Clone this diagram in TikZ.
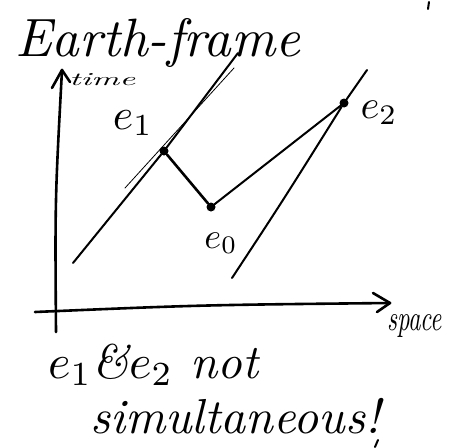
\documentclass[tikz,border=0pt]{standalone}
\begin{document}
\begin{tikzpicture}[x=1pt,y=-1pt, line cap=round, line join=round,
  stroke/.style={line width=2pt},
  axisline/.style={line width=2.6pt},
  dot/.style={circle,fill=black,inner sep=0pt,minimum size=9pt},
  hand/.style={font=\itshape, inner sep=0pt}]
\useasboundingbox (0,0) rectangle (449,447);
% events
\node[dot] (e1) at (164,151) {};
\node[dot] (e0) at (211,207) {};
\node[dot] (e2) at (344,103) {};
% world lines
\coordinate (w1a) at (73,263);
\coordinate (w1b) at (238,53);
\coordinate (t1a) at (125,188);
\coordinate (t1b) at (234,68);
\coordinate (w2a) at (232,278);
\coordinate (w2b) at (367,70);
\draw[stroke] (w1a) -- (e1) -- (w1b);
\draw[line width=0.8pt] (t1a) -- (t1b);
\draw[line width=2.6pt] (e1) -- (e0);
\draw[stroke] (e0) -- (e2);
\draw[stroke] (w2a) .. controls (282,202) .. (e2) -- (w2b);
% axes
\coordinate (tbot) at (56,332);
\coordinate (ttip) at (62,70);
\coordinate (tl) at (52,88);
\coordinate (tr) at (70,82);
\coordinate (sleft) at (35,312);
\coordinate (stip) at (390,303);
\coordinate (su) at (373,293);
\coordinate (sd) at (377,312);
\draw[axisline] (tbot) .. controls (55,200) .. (ttip);
\draw[axisline] (tl) -- (ttip) -- (tr);
\draw[axisline] (sleft) .. controls (200,305) .. (stip);
\draw[axisline] (su) -- (stip) -- (sd);
% labels
\node[hand, anchor=base west] (title) at (15,56) {\resizebox{285pt}{!}{Earth-frame}};
\node[hand, anchor=base west] (time) at (69,85) {\resizebox{66pt}{12pt}{time}};
\node[hand, anchor=north west] (space) at (387,314) {\resizebox{55pt}{16pt}{space}};
\node[inner sep=0pt] (l1) at (133,123) {\resizebox{40pt}{!}{$e_1$}};
\node[inner sep=0pt] (l2) at (379,113) {\resizebox{37pt}{!}{$e_2$}};
\node[inner sep=0pt] (l0) at (221,243) {\resizebox{33pt}{!}{$e_0$}};
\node[hand, anchor=base west] (n1) at (48,378) {\resizebox{210pt}{!}{$e_1$\&$e_2$ not}};
\node[hand, anchor=base west] (n2) at (90,433) {\resizebox{290pt}{!}{simultaneous!}};
% stray marks
\draw[line width=2pt] (429,2) -- (428,9);
\draw[line width=2pt] (375,447) -- (378,440);
\end{tikzpicture}
\end{document}
